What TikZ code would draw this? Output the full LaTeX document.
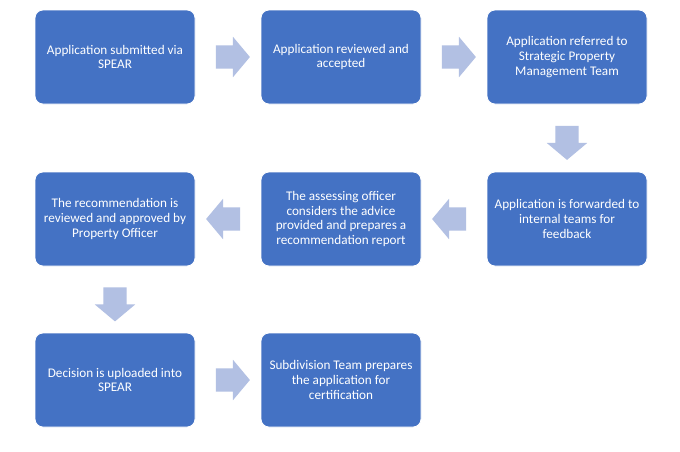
\documentclass[tikz,border=0pt]{standalone}
\usepackage{fontspec}
\setmainfont{Carlito}
\usetikzlibrary{shapes.arrows,calc}
\definecolor{boxblue}{HTML}{4472C4}
\definecolor{arrowblue}{HTML}{B2C0E3}
\tikzset{
  stepbox/.style={rectangle, rounded corners=8pt, minimum width=160pt, minimum height=94pt,
    fill=boxblue, draw=white, line width=0.8pt, text=white, align=center, inner sep=2pt,
    font=\fontsize{13.2}{14.8}\selectfont},
  blockarrow/.style={single arrow, fill=arrowblue, draw=none, inner sep=0pt,
    minimum height=34pt, single arrow head extend=8.5pt, single arrow tip angle=100},
  harrow/.style={blockarrow, text height=23pt, text depth=0pt, text width=0pt},
  varrow/.style={blockarrow, shape border rotate=270, text height=0pt, text depth=0pt, text width=23pt}
}
\begin{document}
\begin{tikzpicture}[x=1pt,y=-1pt]
\useasboundingbox[fill=white] (0,0) rectangle (680,451);
\node[stepbox] (b1) at (115,57) {Application submitted via\\SPEAR};
\node[stepbox] (b2) at (341,57) {Application reviewed and\\accepted};
\node[stepbox] (b3) at (567,57) {Application referred to\\Strategic Property\\Management Team};
\node[stepbox] (b4) at (567,219) {Application is forwarded to\\internal teams for\\feedback};
\node[stepbox] (b5) at (341,219) {The assessing officer\\considers the advice\\provided and prepares a\\recommendation report};
\node[stepbox] (b6) at (115,219) {The recommendation is\\reviewed and approved by\\Property Officer};
\node[stepbox] (b7) at (115,380) {Decision is uploaded into\\SPEAR};
\node[stepbox] (b8) at (341,380) {Subdivision Team prepares\\the application for\\certification};
\node[harrow] (a1) at ($(b1.east)!0.5!(b2.west)$) {};
\node[harrow] (a2) at ($(b2.east)!0.5!(b3.west)$) {};
\node[varrow] (a3) at ($(b3.south)!0.5!(b4.north)$) {};
\node[harrow, shape border rotate=180] (a4) at ($(b4.west)!0.5!(b5.east)$) {};
\node[harrow, shape border rotate=180] (a5) at ($(b5.west)!0.5!(b6.east)$) {};
\node[varrow] (a6) at ($(b6.south)!0.5!(b7.north)$) {};
\node[harrow] (a7) at ($(b7.east)!0.5!(b8.west)$) {};
\end{tikzpicture}
\end{document}
